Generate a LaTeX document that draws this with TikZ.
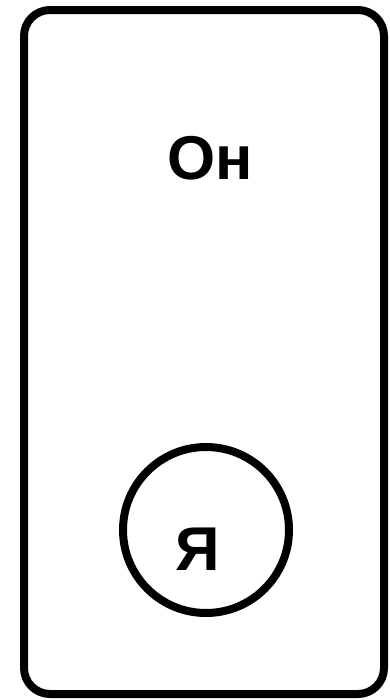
\documentclass[tikz,border=0pt]{standalone}
\usepackage{fontspec}
\setmainfont{Liberation Sans}
\usepackage{tikz}

\begin{document}
\begin{tikzpicture}[x=0.05cm,y=-0.05cm]
  \useasboundingbox (0,0) rectangle (389,700);
  \tikzset{word/.style={font=\bfseries\fontsize{88}{88}\selectfont,inner sep=0pt,anchor=base}}
  \draw[line width=0.4cm,rounded corners=1.3cm] (24,10) rectangle (384,694);
  \node[word] (he) at (210,179) {Он};
  \node[circle,draw,line width=0.4cm,minimum size=8.3cm,inner sep=0pt] (selfring) at (206,530) {};
  \node[word] (me) at (198,570) {Я};
\end{tikzpicture}
\end{document}
